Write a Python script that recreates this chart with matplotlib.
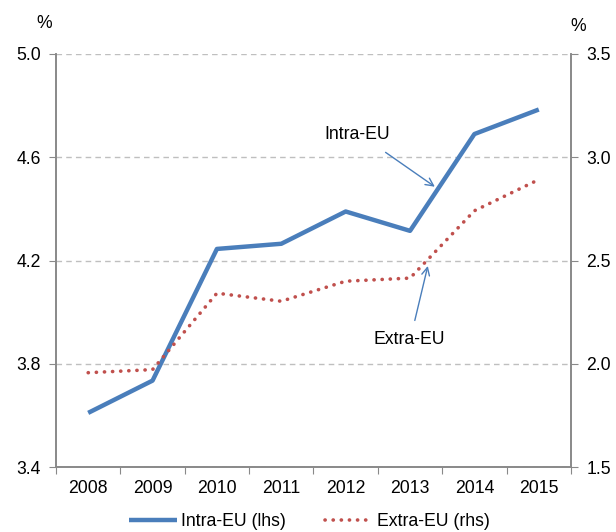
import numpy as np
import matplotlib.pyplot as plt

plt.rcParams['font.family'] = ['Liberation Sans', 'DejaVu Sans']

anos = ['2008', '2009', '2010', '2011', '2012', '2013', '2014', '2015']
intra_eu = [3.61, 3.735, 4.245, 4.265, 4.39, 4.315, 4.69, 4.785]
extra_eu = [1.957, 1.972, 2.342, 2.303, 2.40, 2.415, 2.741, 2.892]

azul = '#4A7EBB'
vermelho = '#C0504D'
cinza = '#898989'

fig = plt.figure(figsize=(6.16, 5.32), dpi=100)
ax = fig.add_axes([0.0909, 0.122, 0.836, 0.7765])
ax2 = ax.twinx()

x = np.arange(len(anos))
l1, = ax.plot(x, intra_eu, color=azul, lw=3.2, solid_capstyle='butt', zorder=3)
l2, = ax2.plot(x, extra_eu, color=vermelho, lw=2.6, linestyle=(0, (0.05, 2.2)),
               dash_capstyle='round', zorder=3)

ax.set_xlim(-0.5, len(anos) - 0.5)
ax.set_ylim(3.4, 5.0)
ax.set_yticks([3.4, 3.8, 4.2, 4.6, 5.0])
ax2.set_ylim(1.5, 3.5)
ax2.set_yticks([1.5, 2.0, 2.5, 3.0, 3.5])

ax.yaxis.grid(True, color='#BFBFBF', linestyle=(0, (4, 3)), lw=1)
ax.set_axisbelow(True)

# ticks do eixo x entre as categorias, rotulos no centro
ax.set_xticks(np.arange(-0.5, len(anos)))
ax.set_xticklabels([])
ax.set_xticks(x, minor=True)
ax.set_xticklabels(anos, minor=True)
ax.tick_params(axis='x', which='minor', length=0, pad=9, labelsize=12.7)
ax.tick_params(axis='x', which='major', length=5, color=cinza)

ax.tick_params(axis='y', length=5, color=cinza, labelsize=12.7, pad=6)
ax2.tick_params(axis='y', length=5, color=cinza, labelsize=12.7, pad=6)
ax.yaxis.set_major_formatter(plt.FormatStrFormatter('%.1f'))
ax2.yaxis.set_major_formatter(plt.FormatStrFormatter('%.1f'))

for a in (ax, ax2):
  a.spines['top'].set_visible(False)
  for s in ('left', 'right', 'bottom'):
    a.spines[s].set_color(cinza)
    a.spines[s].set_linewidth(1.2)

fig.text(0.072, 0.955, '%', fontsize=12.7, ha='center', va='center')
fig.text(0.938, 0.951, '%', fontsize=12.7, ha='center', va='center')

# anotacoes (texto e setas separados)
seta = dict(arrowstyle='->', color=azul, lw=1, shrinkA=0, shrinkB=0,
            mutation_scale=14)
ax.text(4.18, 4.69, 'Intra-EU', fontsize=12.7, ha='center', va='center')
ax.annotate('', xy=(5.385, 4.486), xytext=(4.62, 4.619), arrowprops=seta)
ax.text(4.98, 3.894, 'Extra-EU', fontsize=12.7, ha='center', va='center')
ax.annotate('', xy=(5.276, 4.179), xytext=(5.074, 3.968), arrowprops=seta)

fig.legend([l1, l2], ['Intra-EU (lhs)', 'Extra-EU (rhs)'], loc='center',
           bbox_to_anchor=(0.502, 0.02), ncol=2, frameon=False,
           fontsize=12.7, handlelength=2.7, columnspacing=2.2, handletextpad=0.25)

fig.savefig('out.png', dpi=100)
